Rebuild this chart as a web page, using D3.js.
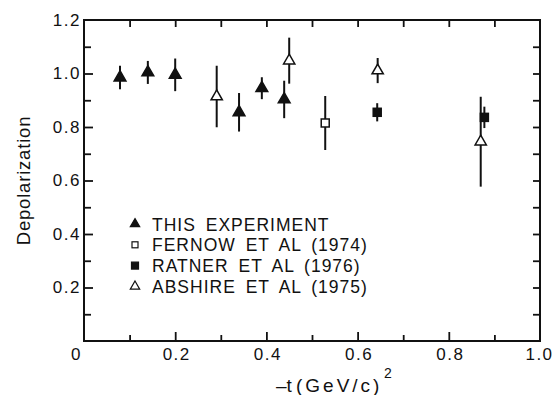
<!DOCTYPE html>
<html>
<head>
<meta charset="utf-8">
<script src="https://cdn.jsdelivr.net/npm/d3@7"></script>
<style>
  body { margin: 0; background: #fff; }
  text { font-family: "Liberation Sans", Arial, sans-serif; fill: #111; }
</style>
</head>
<body>
<div id="chart"></div>
<script>
// data
const thisX = [0.079, 0.14, 0.2, 0.34, 0.39, 0.439];
const thisY = [0.985, 1.004, 0.995, 0.855, 0.945, 0.903];
const thisErr = [0.044, 0.043, 0.061, 0.072, 0.041, 0.07];

const fernowX = [0.529];
const fernowY = [0.815];
const fernowErr = [0.101];

const ratnerX = [0.643, 0.878];
const ratnerY = [0.855, 0.836];
const ratnerErr = [0.034, 0.04];

const abshireX = [0.291, 0.45, 0.644, 0.87];
const abshireY = [0.914, 1.048, 1.011, 0.745];
const abshireErr = [0.115, 0.086, 0.047, 0.168];

const xMajor = [0, 0.2, 0.4, 0.6, 0.8, 1.0];
const yMajor = [0.2, 0.4, 0.6, 0.8, 1.0, 1.2];
const minorTicks = [0.1, 0.3, 0.5, 0.7, 0.9, 1.1];

const legendLabels = ["THIS EXPERIMENT", "FERNOW ET AL (1974)", "RATNER ET AL (1976)", "ABSHIRE ET AL (1975)"];

const width = 553, height = 395;
const margin = {top: 20, right: 13, bottom: 54, left: 84};

const svg = d3.select("#chart").append("svg")
    .attr("width", width)
    .attr("height", height);

const x = d3.scaleLinear([0, 1], [margin.left, width - margin.right]);
const y = d3.scaleLinear([0, 1.2], [height - margin.bottom, margin.top]);

const fmt = d => d === 0 ? "0" : d3.format(".1f")(d);

// frame
svg.append("rect")
    .attr("x", x(0)).attr("y", y(1.2))
    .attr("width", x(1) - x(0)).attr("height", y(0) - y(1.2))
    .attr("fill", "none").attr("stroke", "#111").attr("stroke-width", 2);

function styleAxis(g) {
    g.select(".domain").remove();
    g.selectAll("line").attr("stroke", "#111").attr("stroke-width", 1.8);
    g.selectAll("text").style("font-size", "17px").style("letter-spacing", "1.5px").attr("fill", "#111");
}

// bottom
svg.append("g").attr("transform", `translate(0,${y(0)})`)
    .call(d3.axisBottom(x).tickValues(xMajor.slice(1, -1)).tickSize(-9).tickFormat(""))
    .call(styleAxis);
svg.append("g").attr("transform", `translate(0,${y(0)})`)
    .call(d3.axisBottom(x).tickValues(minorTicks.filter(d => d < 1)).tickSize(-6).tickFormat(""))
    .call(styleAxis);
svg.append("g").attr("transform", `translate(0,${y(0)})`)
    .call(d3.axisBottom(x).tickValues(xMajor).tickSize(0).tickPadding(7).tickFormat(fmt))
    .call(styleAxis)
    .call(g => g.selectAll(".tick text").attr("dx", d => d === 0 ? -8 : (d === 1 ? -1 : 1)));

// top
svg.append("g").attr("transform", `translate(0,${y(1.2)})`)
    .call(d3.axisTop(x).tickValues(xMajor.slice(1, -1).concat(minorTicks.filter(d => d < 1))).tickSize(-7).tickFormat(""))
    .call(styleAxis);

// left
svg.append("g").attr("transform", `translate(${x(0)},0)`)
    .call(d3.axisLeft(y).tickValues(yMajor.slice(0, -1)).tickSize(-9).tickFormat(""))
    .call(styleAxis);
svg.append("g").attr("transform", `translate(${x(0)},0)`)
    .call(d3.axisLeft(y).tickValues(minorTicks).tickSize(-7).tickFormat(""))
    .call(styleAxis);
svg.append("g").attr("transform", `translate(${x(0)},0)`)
    .call(d3.axisLeft(y).tickValues(yMajor).tickSize(0).tickPadding(3).tickFormat(fmt))
    .call(styleAxis);

// right
svg.append("g").attr("transform", `translate(${x(1)},0)`)
    .call(d3.axisRight(y).tickValues(yMajor.slice(0, -1).concat(minorTicks)).tickSize(-7).tickFormat(""))
    .call(styleAxis);

// axis titles
svg.append("text")
    .attr("transform", `translate(30,${(y(0) + y(1.2)) / 2}) rotate(-90)`)
    .attr("text-anchor", "middle")
    .style("font-size", "18.5px")
    .style("letter-spacing", "0.8px")
    .text("Depolarization");

const xt = svg.append("text")
    .attr("y", 392)
    .style("font-size", "19px");
xt.append("tspan").attr("x", 276).text("\u2013t");
xt.append("tspan").attr("x", 296).style("letter-spacing", "3px").text("(GeV/c)");
xt.append("tspan").attr("x", 384).attr("y", 378).style("font-size", "14px").text("2");

// series
const series = [
    {xs: thisX, ys: thisY, es: thisErr, shape: "tri", fill: "#111", size: 60},
    {xs: fernowX, ys: fernowY, es: fernowErr, shape: "sq", fill: "#fff", size: 8},
    {xs: ratnerX, ys: ratnerY, es: ratnerErr, shape: "sq", fill: "#111", size: 8},
    {xs: abshireX, ys: abshireY, es: abshireErr, shape: "tri", fill: "#fff", size: 55}
];

const tri = s => d3.symbol(d3.symbolTriangle, s)();

series.forEach(s => {
    const pts = s.xs.map((d, i) => ({x: d, y: s.ys[i], e: s.es[i]}));
    const g = svg.append("g");
    g.selectAll("line")
        .data(pts)
        .join("line")
        .attr("x1", d => x(d.x)).attr("x2", d => x(d.x))
        .attr("y1", d => y(d.y - d.e)).attr("y2", d => y(d.y + d.e))
        .attr("stroke", "#111").attr("stroke-width", 2);
    if (s.shape === "tri") {
        g.selectAll("path")
            .data(pts)
            .join("path")
            .attr("d", tri(s.size))
            .attr("transform", d => `translate(${x(d.x)},${y(d.y)})`)
            .attr("fill", s.fill).attr("stroke", "#111").attr("stroke-width", 1.5);
    } else {
        g.selectAll("rect")
            .data(pts)
            .join("rect")
            .attr("x", d => x(d.x) - s.size / 2).attr("y", d => y(d.y) - s.size / 2)
            .attr("width", s.size).attr("height", s.size)
            .attr("fill", s.fill).attr("stroke", "#111").attr("stroke-width", 1.5);
    }
});

// legend
const legend = svg.append("g").attr("transform", "translate(135,224)");
const legSym = [
    {shape: "tri", fill: "#111", size: 38},
    {shape: "sq", fill: "#fff", size: 6},
    {shape: "sq", fill: "#111", size: 7},
    {shape: "tri", fill: "#fff", size: 38}
];
legendLabels.forEach((lab, i) => {
    const row = legend.append("g").attr("transform", `translate(0,${i * 20.8})`);
    const s = legSym[i];
    if (s.shape === "tri") {
        row.append("path").attr("d", tri(s.size))
            .attr("fill", s.fill).attr("stroke", "#111").attr("stroke-width", 1.2);
    } else {
        row.append("rect").attr("x", -s.size / 2).attr("y", -s.size / 2)
            .attr("width", s.size).attr("height", s.size)
            .attr("fill", s.fill).attr("stroke", "#111").attr("stroke-width", 1.2);
    }
    row.append("text")
        .attr("x", 17).attr("y", 6.5)
        .style("font-size", "17.5px")
        .style("letter-spacing", "1px")
        .style("word-spacing", "4px")
        .text(lab);
});
</script>
</body>
</html>
